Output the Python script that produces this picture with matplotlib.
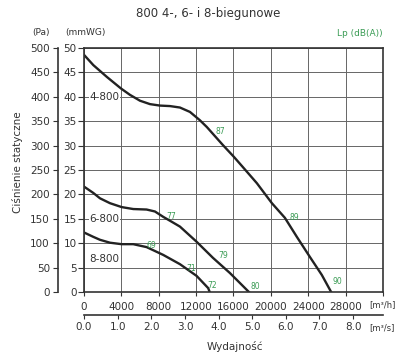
# Wykres charakterystyki wentylatora 800 (4-, 6- i 8-biegunowe)

import matplotlib
matplotlib.use('Agg')
import matplotlib.pyplot as plt
from matplotlib.ticker import MultipleLocator, FormatStrFormatter

# Krzywe: wydajność [m3/h] i ciśnienie statyczne [mmWG]
q_4 = [0, 995, 2430, 3960, 4920, 5990, 7060, 8130, 9200, 10270, 11340, 12400,
       13150, 14870, 16040, 17000, 18500, 20110, 21500, 22780, 24170, 25450, 26450]
p_4 = [48.6, 46.5, 44.1, 41.7, 40.4, 39.2, 38.5, 38.2, 38.1, 37.8, 36.9, 35.2,
       33.8, 30.1, 27.7, 25.6, 22.3, 18.2, 15.2, 11.3, 7.2, 3.5, 0.0]

q_6 = [0, 995, 1710, 2780, 4030, 5270, 6700, 7590, 8480, 9380, 10270, 12050,
       13800, 15610, 17650]
p_6 = [21.6, 20.3, 19.2, 18.2, 17.4, 17.0, 16.9, 16.5, 15.4, 14.4, 13.4, 10.3,
       7.0, 3.9, 0.0]

q_8 = [0, 995, 1710, 2780, 4030, 5270, 6700, 8480, 10270, 12050, 13290, 13450]
p_8 = [12.2, 11.3, 10.7, 10.1, 9.8, 9.8, 9.2, 7.6, 5.7, 3.3, 0.8, 0.0]

curve_names = ['4-800', '6-800', '8-800']
curve_name_y = [40, 15, 6.8]

# Poziomy hałasu Lp dB(A)
lp_text = ['87', '89', '90', '77', '79', '80', '69', '71', '72']
lp_q = [14540, 22460, 27160, 9300, 14870, 18290, 7170, 11450, 13690]
lp_p = [32.8, 15.2, 2.1, 15.4, 7.4, 1.2, 9.6, 4.9, 1.4]

pa_ticks = list(range(0, 501, 50))
q_ticks = list(range(0, 28001, 4000))
s_ticks = list(range(0, 9))

dark = '#333333'
green = '#3b9c55'

plt.rcParams['font.family'] = ['DejaVu Sans']
fig = plt.figure(figsize=(4.1, 3.6), dpi=100)
ax = fig.add_axes([84 / 410, 68 / 360, 299 / 410, 244 / 360])

for q, p in [(q_4, p_4), (q_6, p_6), (q_8, p_8)]:
    ax.plot(q, p, color='#222222', lw=1.7, solid_joinstyle='round')

ax.set_xlim(0, 32000)
ax.set_ylim(0, 50)
ax.yaxis.set_major_locator(MultipleLocator(5))
ax.grid(True, color='#666666', lw=0.7)
ax.set_axisbelow(True)
ax.set_xticks(q_ticks + [32000])
ax.set_xticklabels([str(t) for t in q_ticks] + [''])
ax.tick_params(axis='x', length=3, pad=4, labelsize=7.5, colors=dark)
ax.tick_params(axis='y', length=4.3, pad=1, labelsize=7.5, colors=dark)
for sp in ax.spines.values():
    sp.set_color(dark)
    sp.set_linewidth(1.2)

# nazwy krzywych
for name, y in zip(curve_names, curve_name_y):
    ax.text(600, y, name, fontsize=7.5, color=dark, va='center', ha='left',
            bbox=dict(facecolor='white', edgecolor='none', pad=0.5))

# Lp
for t, q, p in zip(lp_text, lp_q, lp_p):
    ax.text(q, p, t, fontsize=5.5, color=green, ha='center', va='center')

# oś Pa
ax2 = ax.twinx()
ax2.set_ylim(0, 500)
ax2.set_yticks(pa_ticks)
ax2.yaxis.tick_left()
ax2.spines['left'].set_position(('outward', 19))
for s in ['top', 'right', 'bottom']:
    ax2.spines[s].set_visible(False)
ax2.spines['left'].set_color(dark)
ax2.spines['left'].set_linewidth(1.2)
ax2.tick_params(axis='y', length=3.6, pad=2, labelsize=7.5, colors=dark)

# oś m3/s
sec = ax.secondary_xaxis(-0.094, functions=(lambda x: x / 3600, lambda x: x * 3600))
sec.set_xticks(s_ticks)
sec.xaxis.set_major_formatter(FormatStrFormatter('%.1f'))
sec.tick_params(axis='x', length=3, pad=2, labelsize=7.5, colors=dark)
sec.spines['bottom'].set_color(dark)
sec.spines['bottom'].set_linewidth(1.2)

fig.text(369 / 410, 1 - 305 / 360, '[m³/h]', fontsize=6, color=dark, va='center')
fig.text(369 / 410, 1 - 328 / 360, '[m³/s]', fontsize=6, color=dark, va='center')
fig.text(235 / 410, 1 - 346 / 360, 'Wydajność', fontsize=7.5, color=dark, ha='center', va='center')
fig.text(18 / 410, 1 - 162 / 360, 'Ciśnienie statyczne', fontsize=7.5, color=dark,
         rotation=90, ha='center', va='center')
fig.text(208 / 410, 1 - 14 / 360, '800 4-, 6- i 8-biegunowe', fontsize=8.5, color=dark,
         ha='center', va='center')
fig.text(41 / 410, 1 - 33 / 360, '(Pa)', fontsize=6.5, color=dark, ha='center', va='center')
fig.text(65 / 410, 1 - 33 / 360, '(mmWG)', fontsize=6.5, color=dark, ha='left', va='center')
fig.text(383 / 410, 1 - 33 / 360, 'Lp (dB(A))', fontsize=6.5, color=green, ha='right', va='center')

fig.savefig('out.png', dpi=100)
